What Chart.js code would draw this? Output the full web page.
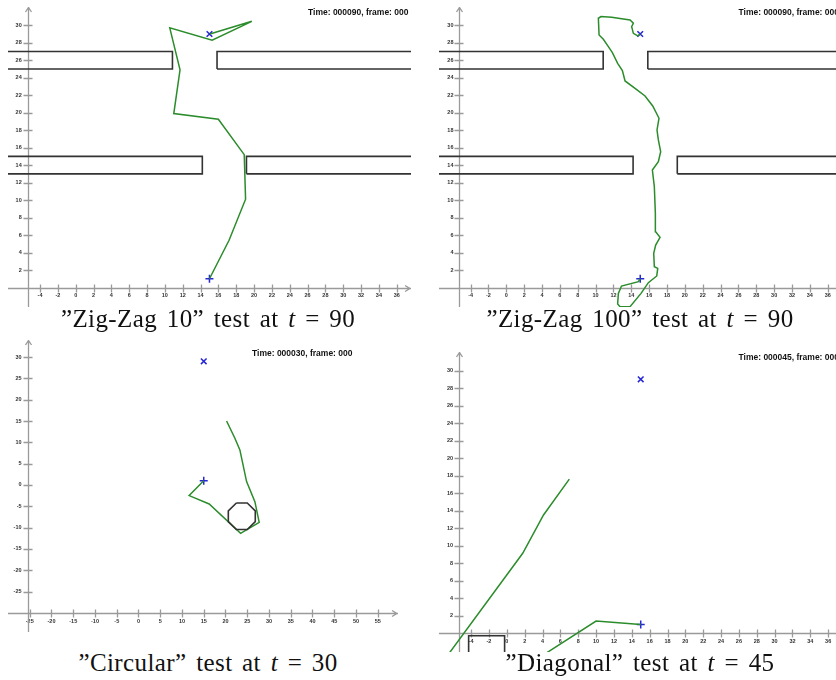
<!DOCTYPE html>
<html>
<head>
<meta charset="utf-8">
<script src="https://cdn.jsdelivr.net/npm/chart.js@4.4.1/dist/chart.umd.min.js"></script>
<style>
  html, body { margin: 0; padding: 0; background: #fff; }
  body { width: 836px; height: 680px; position: relative; overflow: hidden; }
  .panel { position: absolute; overflow: hidden; }
  .panel canvas { position: absolute; }
  .stamp { position: absolute; font: bold 8.5px "Liberation Sans", Arial, sans-serif; color: #111; white-space: nowrap; line-height: 10px; }
  .caption { position: absolute; font: 25px "Liberation Serif", "Times New Roman", serif; color: #111; white-space: nowrap; line-height: 25px; letter-spacing: 0.4px; word-spacing: 3px; transform: translateX(-50%); }
</style>
</head>
<body>
<script>
// shared start / goal of every test
const startPt = [15, 1];
const goalPt = [15, 29];

// walls of the zig-zag tests (y-bands and the gap edges in x)
const wallUpperY = [25, 27];
const wallLowerY = [13, 15];
const gapUpperX = [10.85, 15.85];
const gapLowerX = [14.2, 19.15];
const wallEndsX = [-12, 45];

// "Zig-Zag 10" trajectory
const zz10X = [15, 17.2, 19.05, 18.9, 16.0, 11.0, 11.7, 10.55, 15.3, 19.75, 15.05];
const zz10Y = [1, 5.4, 10.1, 15.2, 19.25, 19.9, 24.9, 29.7, 28.3, 30.45, 29.0];

// "Zig-Zag 100" trajectory
const zz100X = [15, 14.8, 12.9, 12.55, 12.47, 12.74, 13.86, 15.09, 15.91, 16.85, 16.96, 16.58, 16.51, 16.73,
  17.22, 16.73, 16.66, 16.73, 16.58, 16.36, 17.03, 17.29, 17.03, 16.88, 17.1, 16.4, 15.54, 14.42, 13.3,
  13.0, 12.47, 11.88, 11.43, 10.87, 10.39, 10.31, 10.61, 11.8, 13.86, 14.23, 14.04, 14.23, 14.72, 15.0];
const zz100Y = [1, 0.67, 0.17, -0.67, -1.89, -2.19, -2.19, -0.67, 0.55, 1.32, 2.19, 2.38, 3.91, 4.86,
  5.74, 6.38, 7.72, 8.49, 11.53, 13.44, 14.39, 15.54, 16.88, 18.02, 19.36, 20.77, 21.91, 22.79, 23.63,
  24.81, 25.65, 26.87, 27.56, 28.4, 28.89, 30.8, 30.99, 30.91, 30.61, 30.23, 29.84, 29.08, 28.78, 29.0];

// "Circular" trajectory and the octagonal obstacle
const circX = [15, 11.65, 16.25, 23.47, 27.75, 26.76, 24.85, 23.31, 22.16, 20.25];
const circY = [1, -2.5, -4.46, -11.34, -8.76, -3.91, 0.78, 8.21, 10.95, 15.0];
const octX = [22.5, 25.0, 26.85, 26.85, 25.0, 22.5, 20.65, 20.65, 22.5];
const octY = [-4.25, -4.25, -6.1, -8.6, -10.45, -10.45, -8.6, -6.1, -4.25];

// "Diagonal" trajectory (two visible pieces) and the obstacle under the axis
const diagAX = [-6.5, 1.78, 4.11, 7.0];
const diagAY = [-2.35, 9.13, 13.5, 17.6];
const diagBX = [4.3, 10.0, 15.0];
const diagBY = [-2.35, 1.39, 1.0];
const boxX = [-4.28, -0.25, -0.25, -4.28, -4.28];
const boxY = [-5, -5, -0.3, -0.3, -5];

// tick labels
const gridTicksX = [-4, -2, 0, 2, 4, 6, 8, 10, 12, 14, 16, 18, 20, 22, 24, 26, 28, 30, 32, 34, 36];
const gridTicksY = [2, 4, 6, 8, 10, 12, 14, 16, 18, 20, 22, 24, 26, 28, 30];
const circTicksX = [-25, -20, -15, -10, -5, 0, 5, 10, 15, 20, 25, 30, 35, 40, 45, 50, 55];
const circTicksY = [-25, -20, -15, -10, -5, 0, 5, 10, 15, 20, 25, 30];

const GREEN = '#2b8c2b';
const BLUE = '#2626d6';
const WALL = '#333333';
const AXIS = '#9a9a9a';
const PAD = 12;

const pts = (xs, ys) => xs.map((x, i) => ({ x, y: ys[i] }));
const rect = (xr, yr) => pts([xr[0], xr[1], xr[1], xr[0], xr[0]], [yr[0], yr[0], yr[1], yr[1], yr[0]]);

const pathSet = data => ({ data, showLine: true, borderColor: GREEN, borderWidth: 1.5, pointRadius: 0, fill: false });
const wallSet = data => ({ data, showLine: true, borderColor: WALL, borderWidth: 1.6, pointRadius: 0, fill: false });
const markSets = () => [
  { data: pts([startPt[0]], [startPt[1]]), pointStyle: 'cross', pointRadius: 4, borderColor: BLUE, borderWidth: 1.5 },
  { data: pts([goalPt[0]], [goalPt[1]]), pointStyle: 'crossRot', pointRadius: 4, borderColor: BLUE, borderWidth: 1.5 }
];
const zigWalls = () => [
  wallSet(rect([wallEndsX[0], gapUpperX[0]], wallUpperY)),
  wallSet(rect([gapUpperX[1], wallEndsX[1]], wallUpperY)),
  wallSet(rect([wallEndsX[0], gapLowerX[0]], wallLowerY)),
  wallSet(rect([gapLowerX[1], wallEndsX[1]], wallLowerY))
];

// axis lines, crossing tick marks and arrow heads
const axisDecor = {
  id: 'axisDecor',
  beforeDatasetsDraw(chart, args, opts) {
    const { ctx, chartArea: a, scales: { x, y } } = chart;
    const px = Math.round(x.getPixelForValue(opts.axisX)) + 0.5;
    const py = Math.round(y.getPixelForValue(opts.axisY)) + 0.5;
    ctx.save();
    ctx.strokeStyle = AXIS;
    ctx.lineWidth = 1.3;
    ctx.beginPath();
    ctx.moveTo(a.left, py); ctx.lineTo(a.right, py);
    ctx.moveTo(px, a.top); ctx.lineTo(px, a.bottom);
    x.ticks.forEach(t => {
      const tx = Math.round(x.getPixelForValue(t.value)) + 0.5;
      ctx.moveTo(tx, py - 4); ctx.lineTo(tx, py + 4);
    });
    y.ticks.forEach(t => {
      const ty = Math.round(y.getPixelForValue(t.value)) + 0.5;
      ctx.moveTo(px - 5, ty); ctx.lineTo(px + 4, ty);
    });
    ctx.moveTo(px - 3, a.top + 5); ctx.lineTo(px, a.top + 0.5); ctx.lineTo(px + 3, a.top + 5);
    ctx.moveTo(a.right - 6, py - 3); ctx.lineTo(a.right - 1, py); ctx.lineTo(a.right - 6, py + 3);
    ctx.stroke();
    ctx.restore();
  }
};

const tickFont = { family: 'Liberation Sans', size: 5.5, weight: 'bold' };

function drawPanel(p) {
  const box = document.createElement('div');
  box.className = 'panel';
  box.style.cssText = `left:${p.left}px;top:${p.top}px;width:${p.w}px;height:${p.h}px`;
  const canvas = document.createElement('canvas');
  canvas.width = p.w + 2 * PAD;
  canvas.height = p.h + 2 * PAD;
  canvas.style.left = -PAD + 'px';
  canvas.style.top = -PAD + 'px';
  box.appendChild(canvas);
  document.body.appendChild(box);

  const unitX = (p.xMax - p.xMin) / p.w;
  new Chart(canvas, {
    type: 'scatter',
    data: { datasets: p.datasets },
    options: {
      responsive: false,
      animation: false,
      events: [],
      layout: { padding: PAD },
      plugins: {
        legend: { display: false },
        tooltip: { enabled: false },
        axisDecor: { axisX: p.axisX, axisY: p.axisY }
      },
      scales: {
        x: {
          type: 'linear', min: p.xMin, max: p.xMax,
          position: { y: p.axisY },
          grid: { display: false, drawTicks: false },
          border: { display: false },
          ticks: { font: tickFont, color: '#333', padding: 5, maxRotation: 0, autoSkip: false, callback: v => String(v) },
          afterBuildTicks: s => { s.ticks = p.ticksX.map(v => ({ value: v })); }
        },
        y: {
          type: 'linear', min: p.yMin, max: p.yMax,
          position: { x: p.axisX - 6 * unitX },
          grid: { display: false, drawTicks: false },
          border: { display: false },
          ticks: { font: tickFont, color: '#333', padding: 0, autoSkip: false, callback: v => String(v) },
          afterBuildTicks: s => { s.ticks = p.ticksY.map(v => ({ value: v })); }
        }
      }
    },
    plugins: [axisDecor]
  });

  const stamp = document.createElement('div');
  stamp.className = 'stamp';
  stamp.style.left = p.stampLeft + 'px';
  stamp.style.top = p.stampTop + 'px';
  stamp.textContent = p.stamp;
  document.body.appendChild(stamp);

  const cap = document.createElement('div');
  cap.className = 'caption';
  cap.style.left = p.capX + 'px';
  cap.style.top = p.capTop + 'px';
  cap.innerHTML = p.caption;
  document.body.appendChild(cap);
}

drawPanel({
  left: 8, top: 7, w: 403, h: 300,
  xMin: -7.59, xMax: 37.6, yMin: -2.23, yMax: 32.09, axisX: -5.38, axisY: 0,
  ticksX: gridTicksX, ticksY: gridTicksY,
  datasets: [...zigWalls(), pathSet(pts(zz10X, zz10Y)), ...markSets()],
  stamp: 'Time: 000090, frame: 000', stampLeft: 308, stampTop: 7,
  caption: '\u201DZig-Zag 10\u201D test at <i>t</i> = 90', capX: 208, capTop: 306
});

drawPanel({
  left: 439, top: 7, w: 403, h: 300,
  xMin: -7.54, xMax: 37.6, yMin: -2.23, yMax: 32.09, axisX: -5.25, axisY: 0,
  ticksX: gridTicksX, ticksY: gridTicksY,
  datasets: [...zigWalls(), pathSet(pts(zz100X, zz100Y)), ...markSets()],
  stamp: 'Time: 000090, frame: 000', stampLeft: 738.5, stampTop: 7,
  caption: '\u201DZig-Zag 100\u201D test at <i>t</i> = 90', capX: 640, capTop: 306
});

drawPanel({
  left: 8, top: 340, w: 390, h: 292,
  xMin: -30.0, xMax: 59.66, yMin: -34.5, yMax: 34.0, axisX: -25.5, axisY: -30,
  ticksX: circTicksX, ticksY: circTicksY,
  datasets: [wallSet(pts(octX, octY)), pathSet(pts(circX, circY)), ...markSets()],
  stamp: 'Time: 000030, frame: 000', stampLeft: 252, stampTop: 348,
  caption: '\u201DCircular\u201D test at <i>t</i> = 30', capX: 208, capTop: 650
});

drawPanel({
  left: 439, top: 352, w: 403, h: 300,
  xMin: -7.6, xMax: 37.55, yMin: -2.15, yMax: 32.12, axisX: -5.35, axisY: 0,
  ticksX: gridTicksX, ticksY: gridTicksY,
  datasets: [wallSet(pts(boxX, boxY)), pathSet(pts(diagAX, diagAY)), pathSet(pts(diagBX, diagBY)), ...markSets()],
  stamp: 'Time: 000045, frame: 000', stampLeft: 738.5, stampTop: 352,
  caption: '\u201DDiagonal\u201D test at <i>t</i> = 45', capX: 640, capTop: 650
});
</script>
</body>
</html>
